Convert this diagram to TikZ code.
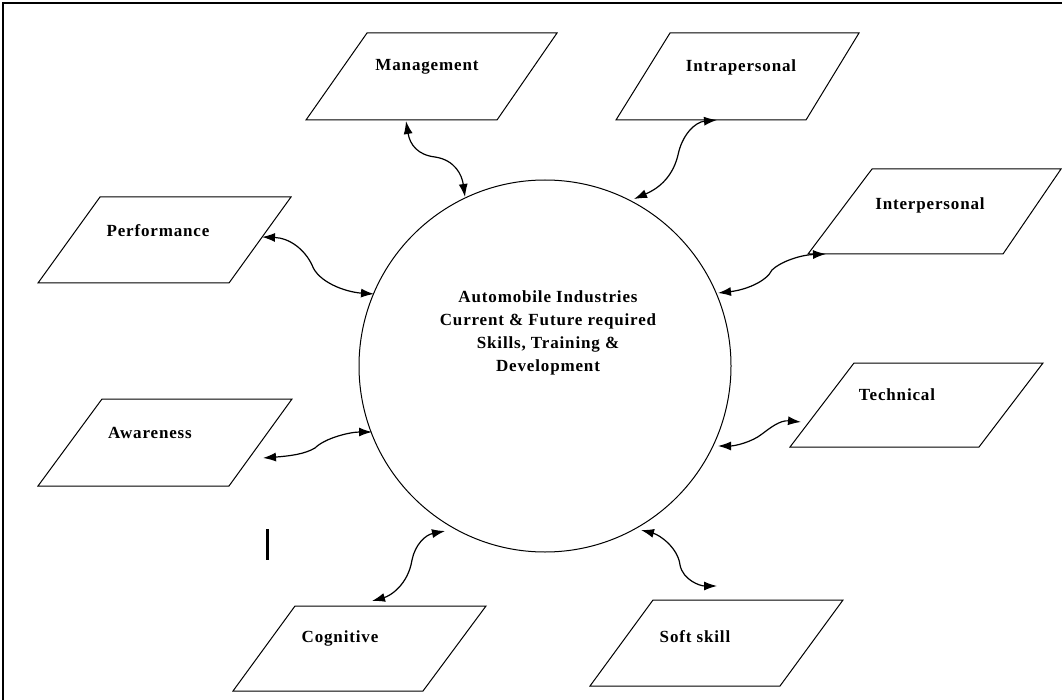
\documentclass[tikz,border=0pt]{standalone}
\usepackage{fontspec}
\setmainfont{Liberation Serif}[LetterSpace=5]
\usetikzlibrary{arrows.meta}
\tikzset{
  pbox/.style={draw, line width=1pt, line join=miter},
  lbl/.style={font=\fontsize{17}{23}\selectfont\bfseries, inner sep=0pt},
  link/.style={{Latex[length=13pt,width=9pt]}-{Latex[length=13pt,width=9pt]}, line width=1.2pt},
  frame/.style={line width=1.5pt}
}
\begin{document}
\begin{tikzpicture}[x=1pt,y=-1pt]
\useasboundingbox (0,0) rectangle (1062,700);
% frame
\draw[frame] (3,700) -- (3,3) -- (1062,3);
% hub circle
\node[draw, circle, line width=1pt, minimum size=372pt, inner sep=0pt] (hub) at (545,366) {};
\node[lbl, align=center] (title) at (548,333) {Automobile Industries\\Current \& Future required\\Skills, Training \&\\Development};
% parallelograms
\draw[pbox] (367,33) -- (557,33) -- (497,120) -- (306,120) -- cycle;
\draw[pbox] (670,33) -- (859,33) -- (806,120) -- (616,120) -- cycle;
\draw[pbox] (872,169) -- (1061,169) -- (1003,254) -- (808,254) -- cycle;
\draw[pbox] (854,363) -- (1043,363) -- (979,447) -- (790,447) -- cycle;
\draw[pbox] (100,197) -- (291,197) -- (229,283) -- (38,283) -- cycle;
\draw[pbox] (102,399) -- (292,399) -- (229,486) -- (38,486) -- cycle;
\draw[pbox] (295,606) -- (486,606) -- (423,691) -- (233,691) -- cycle;
\draw[pbox] (653,600) -- (843,600) -- (780,686) -- (590,686) -- cycle;
% labels
\node[lbl] (mgt) at (427,67) {Management};
\node[lbl] (intra) at (741,67) {Intrapersonal};
\node[lbl] (inter) at (930,205) {Interpersonal};
\node[lbl] (tech) at (897,395) {Technical};
\node[lbl] (perf) at (158,231) {Performance};
\node[lbl] (aware) at (150,433) {Awareness};
\node[lbl] (cog) at (340,638) {Cognitive};
\node[lbl] (soft) at (695,637) {Soft skill};
% stray bar
\draw[line width=3pt] (267,529) -- (267,560);
% connector end points
\coordinate (mgA) at (406,121);   \coordinate (mgB) at (465,197);
\coordinate (inA) at (717,120);   \coordinate (inB) at (634,199);
\coordinate (itA) at (826,254);   \coordinate (itB) at (718,293);
\coordinate (teA) at (801,422);   \coordinate (teB) at (718,446);
\coordinate (soA) at (717,586);   \coordinate (soB) at (641,530);
\coordinate (coA) at (372,601);   \coordinate (coB) at (445,531);
\coordinate (awA) at (263,458);   \coordinate (awB) at (372,432);
\coordinate (peA) at (262,237);   \coordinate (peB) at (374,294);
% connectors
\draw[link] (mgA) .. controls (410,145) and (418,155) .. (435,157) .. controls (455,160) and (462,175) .. (mgB);
\draw[link] (inA) .. controls (695,122) and (682,135) .. (678,155) .. controls (672,180) and (655,190) .. (inB);
\draw[link] (itA) .. controls (800,255) and (780,262) .. (772,270) .. controls (766,282) and (745,290) .. (itB);
\draw[link] (teA) .. controls (780,420) and (770,428) .. (762,434) .. controls (752,442) and (735,446) .. (teB);
\draw[link] (soB) .. controls (660,535) and (678,548) .. (680,565) .. controls (683,580) and (700,586) .. (soA);
\draw[link] (coB) .. controls (425,535) and (415,545) .. (412,560) .. controls (408,585) and (390,596) .. (coA);
\draw[link] (awA) .. controls (290,456) and (305,454) .. (315,448) .. controls (325,438) and (350,432) .. (awB);
\draw[link] (peA) .. controls (290,238) and (305,250) .. (312,265) .. controls (318,282) and (345,292) .. (peB);
\end{tikzpicture}
\end{document}
